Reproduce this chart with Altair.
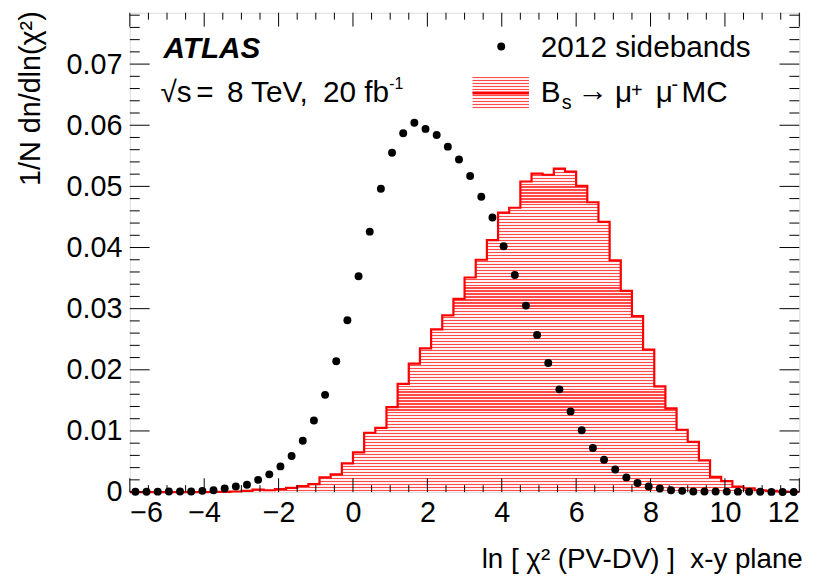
import altair as alt
import pandas as pd

# ---------------- data ----------------
# left bin edges (bin width 0.3) and the closing edge
bin_left = [-6.0, -5.7, -5.4, -5.1, -4.8, -4.5, -4.2, -3.9, -3.6, -3.3,
            -3.0, -2.7, -2.4, -2.1, -1.8, -1.5, -1.2, -0.9, -0.6, -0.3,
            0.0, 0.3, 0.6, 0.9, 1.2, 1.5, 1.8, 2.1, 2.4, 2.7,
            3.0, 3.3, 3.6, 3.9, 4.2, 4.5, 4.8, 5.1, 5.4, 5.7,
            6.0, 6.3, 6.6, 6.9, 7.2, 7.5, 7.8, 8.1, 8.4, 8.7,
            9.0, 9.3, 9.6, 9.9, 10.2, 10.5, 10.8, 11.1, 11.4, 11.7]
last_edge = 12.0

bin_center = [-5.85, -5.55, -5.25, -4.95, -4.65, -4.35, -4.05, -3.75, -3.45, -3.15,
              -2.85, -2.55, -2.25, -1.95, -1.65, -1.35, -1.05, -0.75, -0.45, -0.15,
              0.15, 0.45, 0.75, 1.05, 1.35, 1.65, 1.95, 2.25, 2.55, 2.85,
              3.15, 3.45, 3.75, 4.05, 4.35, 4.65, 4.95, 5.25, 5.55, 5.85,
              6.15, 6.45, 6.75, 7.05, 7.35, 7.65, 7.95, 8.25, 8.55, 8.85,
              9.15, 9.45, 9.75, 10.05, 10.35, 10.65, 10.95, 11.25, 11.55, 11.85]

# Bs -> mu mu MC histogram (per bin)
mc_values = [0.0, 0.0, 0.0, 0.0, 0.0, 0.0, 0.0, 0.00002, 0.00004, 0.0001,
             0.0002, 0.0004, 0.0003, 0.0005, 0.0007, 0.0010, 0.0013, 0.0024, 0.0029, 0.0047,
             0.0065, 0.0097, 0.0105, 0.0139, 0.0177, 0.0210, 0.0235, 0.0266, 0.0289, 0.0316,
             0.0351, 0.0380, 0.0412, 0.0457, 0.0465, 0.0508, 0.0521, 0.0519, 0.0529, 0.0524,
             0.0501, 0.0474, 0.0442, 0.0379, 0.0329, 0.0288, 0.0233, 0.0173, 0.0137, 0.0102,
             0.0082, 0.0052, 0.0025, 0.0018, 0.0009, 0.0006, 0.0003, 0.0002, 0.0001, 0.00005]

# 2012 sidebands (points)
sb_values = [0.00005, 0.00005, 0.00007, 0.0001, 0.0001, 0.0001, 0.0002, 0.0003, 0.0006, 0.0009,
             0.0012, 0.0020, 0.0029, 0.0042, 0.0059, 0.0084, 0.0117, 0.0159, 0.0214, 0.0281,
             0.0353, 0.0426, 0.0496, 0.0555, 0.0587, 0.0604, 0.0594, 0.0584, 0.0565, 0.0544,
             0.0517, 0.0483, 0.0449, 0.0402, 0.0355, 0.0305, 0.0257, 0.0211, 0.0168, 0.0132,
             0.0101, 0.0072, 0.0053, 0.0037, 0.0024, 0.0015, 0.0009, 0.0006, 0.0003, 0.0002,
             0.0001, 0.0001, 0.0001, 0.00008, 0.00007, 0.00006, 0.00005, 0.00003, 0.00002, 0.00002]

x_major = [-6, -4, -2, 0, 2, 4, 6, 8, 10, 12]
x_minor = [-5.5, -5, -4.5, -3.5, -3, -2.5, -1.5, -1, -0.5, 0.5, 1, 1.5, 2.5, 3, 3.5,
           4.5, 5, 5.5, 6.5, 7, 7.5, 8.5, 9, 9.5, 10.5, 11, 11.5]
y_major = [0.0, 0.01, 0.02, 0.03, 0.04, 0.05, 0.06, 0.07]
y_minor = [0.002, 0.004, 0.006, 0.008, 0.012, 0.014, 0.016, 0.018, 0.022, 0.024, 0.026, 0.028,
           0.032, 0.034, 0.036, 0.038, 0.042, 0.044, 0.046, 0.048, 0.052, 0.054, 0.056, 0.058,
           0.062, 0.064, 0.066, 0.068, 0.072, 0.074, 0.076, 0.078]

X_DOMAIN = [-6, 12]
Y_DOMAIN = [0, 0.0784]

# ---------------- layout ----------------
W, H = 676, 484
FONT = "Liberation Sans"
RED = "#ff0000"


def stripes(height_px, period=3.0, frac=0.4, c1="#ff4a4a", c2="#fff2f2"):
    stops = []
    k = 0
    while k * period < height_px:
        a = k * period / height_px
        b = min((k * period + frac * period) / height_px, 1.0)
        c = min((k + 1) * period / height_px, 1.0)
        stops += [alt.GradientStop(offset=a, color=c1), alt.GradientStop(offset=b, color=c1),
                  alt.GradientStop(offset=b, color=c2), alt.GradientStop(offset=c, color=c2)]
        k += 1
    return alt.LinearGradient(gradient="linear", stops=stops, x1=0, x2=0, y1=0, y2=1)


area_h = max(mc_values) / Y_DOMAIN[1] * H
hatch_main = stripes(area_h)
hatch_leg = stripes(32.0)

mc_df = pd.DataFrame({"edge": bin_left + [last_edge], "val": mc_values + [mc_values[-1]]})
sb_df = pd.DataFrame({"x": bin_center, "y": sb_values})

xscale = alt.Scale(domain=X_DOMAIN, nice=False, zero=False)
yscale = alt.Scale(domain=Y_DOMAIN, nice=False, zero=False)

x_axis = alt.Axis(values=x_major, format="d", domain=False, ticks=False, grid=False,
                  labelFont=FONT, labelFontSize=29, labelColor="black", labelPadding=7,
                  title="ln [ χ² (PV-DV) ]\u00a0\u00a0x-y plane", titleFont=FONT, titleFontSize=28,
                  titleFontWeight="normal", titleColor="black", titleX=W + 3, titleY=76,
                  titleAlign="right", titleBaseline="alphabetic")
y_axis = alt.Axis(values=y_major, labelExpr="datum.value == 0 ? '0' : format(datum.value, '.2f')",
                  domain=False, ticks=False, grid=False,
                  labelFont=FONT, labelFontSize=29, labelColor="black", labelPadding=8,
                  title="1/N dn/dln(χ²)", titleFont=FONT, titleFontSize=29,
                  titleFontWeight="normal", titleColor="black", titleX=-100, titleY=-2,
                  titleAngle=270, titleAlign="right", titleBaseline="middle")


def X(field):
    return alt.X(field, type="quantitative", scale=xscale, axis=x_axis)


def Y(field):
    return alt.Y(field, type="quantitative", scale=yscale, axis=y_axis)


area = alt.Chart(mc_df).mark_area(interpolate="step-after", fill=hatch_main, opacity=1).encode(
    x=X("edge"), y=Y("val"))
line = alt.Chart(mc_df).mark_line(interpolate="step-after", color=RED, strokeWidth=2.2).encode(
    x=X("edge"), y=Y("val"))


def xticks(vals, length):
    d = pd.DataFrame({"v": vals})
    bot = alt.Chart(d).mark_rule(color="black", strokeWidth=1).encode(
        x=X("v"), y=alt.value(H), y2=alt.value(H - length))
    top = alt.Chart(d).mark_rule(color="black", strokeWidth=1).encode(
        x=X("v"), y=alt.value(0), y2=alt.value(length))
    return [bot, top]


def yticks(vals, length):
    d = pd.DataFrame({"v": vals})
    left = alt.Chart(d).mark_rule(color="black", strokeWidth=1).encode(
        y=Y("v"), x=alt.value(0), x2=alt.value(length))
    right = alt.Chart(d).mark_rule(color="black", strokeWidth=1).encode(
        y=Y("v"), x=alt.value(W), x2=alt.value(W - length))
    return [left, right]


ticks = xticks(x_major, 14) + xticks(x_minor, 7) + yticks(y_major, 20) + yticks(y_minor, 10)

points = alt.Chart(sb_df).mark_circle(size=64, color="black", opacity=1).encode(
    x=X("x"), y=Y("y"))

one = alt.Data(values=[{}])


def txt(s, x, y, size=30, weight="normal", style="normal", align="left", baseline="alphabetic"):
    return alt.Chart(one).mark_text(text=s, font=FONT, fontSize=size, fontWeight=weight,
                                    fontStyle=style, align=align, baseline=baseline,
                                    color="black").encode(x=alt.value(x), y=alt.value(y))


labels = [
    txt("ATLAS", 34, 46, size=30, weight="bold", style="italic"),
    txt("√s", 31, 90),
    txt("=", 67, 90),
    txt("8 TeV,", 98, 90),
    txt("20 fb", 195, 90),
    txt("-1", 262, 77, size=16),
    txt("2012 sidebands", 415, 45),
    txt("B", 415, 90),
    txt("s", 436, 97, size=20),
    txt("→", 452, 89, size=31),
    txt("μ", 490, 90),
    txt("+", 506, 85, size=20),
    txt("μ", 531, 90),
    txt("-", 547, 79, size=20),
    txt("MC", 557, 90),
]

leg_dot = alt.Chart(one).mark_circle(size=64, color="black", opacity=1).encode(
    x=alt.value(375), y=alt.value(34))
leg_box = alt.Chart(one).mark_rect(fill=hatch_leg, opacity=1).encode(
    x=alt.value(346), x2=alt.value(403), y=alt.value(65), y2=alt.value(97))
leg_line = alt.Chart(one).mark_rule(color=RED, strokeWidth=3).encode(
    x=alt.value(346), x2=alt.value(403), y=alt.value(81))

chart = alt.layer(area, line, *ticks, points, leg_box, leg_line, leg_dot, *labels).properties(
    width=W, height=H,
    autosize=alt.AutoSizeParams(type="none"),
    padding={"left": 123, "top": 2, "right": 33, "bottom": 88},
).configure_view(stroke="black", strokeWidth=1.2).configure(background="white")

chart.save("out.html", embed_options={"renderer": "svg", "actions": False})
